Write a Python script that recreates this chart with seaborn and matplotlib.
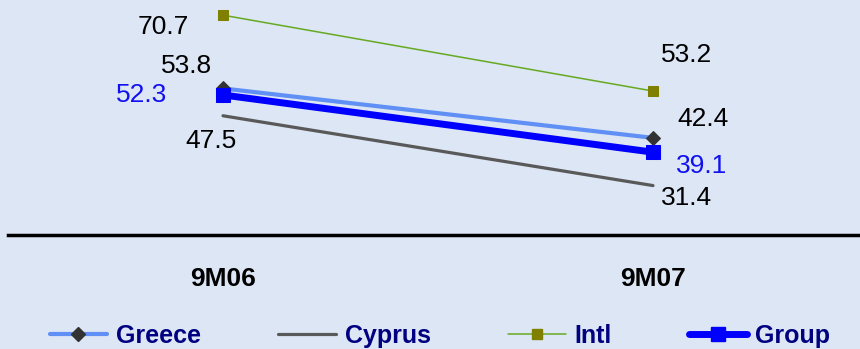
import pandas as pd
import seaborn as sns
import matplotlib.pyplot as plt
from matplotlib.lines import Line2D

# --- Data ---
periods = ["9M06", "9M07"]
greece = [53.8, 42.4]
cyprus = [47.5, 31.4]
intl = [70.7, 53.2]
group = [52.3, 39.1]
series_names = ["Greece", "Cyprus", "Intl", "Group"]

df = pd.DataFrame({
    "Period": periods * 4,
    "Series": [s for s in series_names for _ in periods],
    "Value": greece + cyprus + intl + group,
})

bg = "#DCE6F4"
sns.set_theme(style="white")
plt.rcParams["font.family"] = ["Liberation Sans", "DejaVu Sans"]

# line / marker styles per series
styles = {
    "Greece": dict(color="#6090F5", lw=3.0, marker="D", ms=7, mfc="#333333", mec="#333333"),
    "Cyprus": dict(color="#595959", lw=2.3, marker=None, ms=0, mfc="none", mec="none"),
    "Intl": dict(color="#66AA22", lw=1.1, marker="s", ms=7.5, mfc="#808000", mec="#808000"),
    "Group": dict(color="#0000FF", lw=5.0, marker="s", ms=10, mfc="#0000FF", mec="#0000FF"),
}

# label offsets in pixels from the data point (per series, per period)
offsets = {
    "Greece": [(-36, 22), (50, 19)],
    "Cyprus": [(-12, -25), (34, -12)],
    "Intl": [(-60, -12), (34, 36)],
    "Group": [(-81, 0), (49, -14)],
}
label_colors = {"Greece": "black", "Cyprus": "black", "Intl": "black", "Group": "#1010F0"}

fig = plt.figure(figsize=(8.6, 3.49), dpi=100, facecolor=bg)
ax = fig.add_axes([8 / 860, 1 - 235 / 349, 1.0, 235 / 349])
ax.set_facecolor(bg)

for name in series_names:
    st = styles[name]
    sub = df[df["Series"] == name].reset_index(drop=True)
    sns.lineplot(data=sub, x="Period", y="Value", ax=ax, sort=False,
                 color=st["color"], linewidth=st["lw"],
                 marker=st["marker"], markersize=st["ms"],
                 markerfacecolor=st["mfc"], markeredgecolor=st["mec"])
    for i, row in sub.iterrows():
        ax.annotate(f"{row['Value']:.1f}", (i, row["Value"]),
                    xytext=offsets[name][i], textcoords="offset pixels",
                    ha="center", va="center", fontsize=19,
                    color=label_colors[name])

ax.set_xlim(-0.5, 1.5)
ax.set_ylim(20, 74.2)
ax.set_xlabel("")
ax.set_ylabel("")
ax.set_yticks([])
for side in ["left", "right", "top"]:
    ax.spines[side].set_visible(False)
ax.spines["bottom"].set_color("black")
ax.spines["bottom"].set_linewidth(2.5)
ax.tick_params(axis="x", length=0, pad=23)
for lbl in ax.get_xticklabels():
    lbl.set_fontweight("bold")
    lbl.set_fontsize(19)
    lbl.set_color("black")

handles = []
for name in series_names:
    st = styles[name]
    handles.append(Line2D([], [], color=st["color"], lw=st["lw"],
                          marker=st["marker"], markersize=st["ms"],
                          markerfacecolor=st["mfc"], markeredgecolor=st["mec"]))
leg = fig.legend(handles, series_names, loc="center", ncol=4,
                 bbox_to_anchor=(440 / 860, 1 - 336 / 349),
                 frameon=False, handlelength=2.3, handletextpad=0.35,
                 columnspacing=3.1, borderaxespad=0,
                 prop={"weight": "bold", "size": 18})
for t in leg.get_texts():
    t.set_color("#000080")

fig.savefig("out.png", dpi=100, facecolor=bg)
